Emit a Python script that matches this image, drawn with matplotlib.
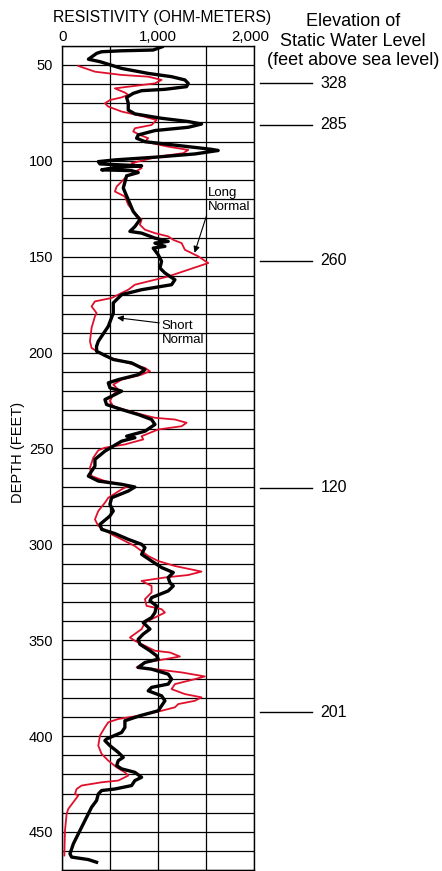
import matplotlib
matplotlib.use('Agg')
import matplotlib.pyplot as plt
import matplotlib.transforms as mtransforms

plt.rcParams['font.family'] = ['Liberation Sans', 'DejaVu Sans']

# ---- data ----
short_res = [1040, 947, 618, 410, 359, 272, 394, 618, 895, 1138, 1277, 1312, 1294, 1069, 826, 739, 670, 687, 687, 756,
             1034, 1312, 1450, 1312, 965, 791, 774, 861, 1243, 1555, 1624, 1381, 965, 548, 375, 392, 826, 548, 410, 722,
             791, 670, 635, 687, 739, 808, 756, 704, 826, 965, 1103, 965, 1069, 947, 999, 1034, 1017, 1069, 1173, 1138,
             826, 618, 531, 531, 479, 444, 375, 357, 357, 531, 722, 861, 791, 583, 479, 496, 618, 548, 444, 461,
             618, 791, 930, 965, 861, 670, 756, 618, 540, 444, 340, 340, 271, 375, 618, 756, 687, 514, 496, 531,
             496, 392, 410, 548, 687, 826, 861, 826, 930, 1034, 1156, 1103, 1121, 1156, 1103, 930, 913, 982, 965, 930,
             843, 913, 843, 791, 808, 913, 982, 999, 861, 791, 930, 1103, 1138, 1103, 930, 895, 1034, 1069, 1034, 999,
             808, 652, 652, 618, 461, 444, 496, 583, 635, 583, 566, 618, 756, 826, 756, 722, 548, 409, 375, 357,
             305, 253, 201, 167, 115, 80, 97, 271, 357]
short_depth = [40.5, 42.2, 42.6, 43.1, 43.9, 47.0, 48.3, 51.8, 54.4, 56.1, 57.8, 59.6, 61.3, 62.7, 63.4, 64.8, 66.9, 70.0, 73.5, 75.5,
               77.8, 79.5, 80.8, 82.5, 84.2, 86.5, 88.2, 90.0, 92.2, 94.0, 94.6, 96.4, 98.1, 99.5, 100.4, 101.6, 102.6, 103.5, 104.7, 105.1,
               106.1, 107.8, 114.2, 120.3, 126.4, 130.7, 134.3, 136.8, 137.7, 140.3, 142.0, 142.9, 144.6, 145.5, 149.0, 152.4, 155.9, 158.5, 162.0, 164.6,
               167.2, 169.8, 174.1, 179.4, 186.3, 188.9, 194.1, 196.7, 199.3, 203.6, 205.4, 208.9, 211.5, 214.1, 215.8, 218.4, 220.1, 221.9, 224.5, 227.1,
               229.7, 232.3, 234.9, 237.5, 241.0, 243.6, 244.4, 246.2, 248.5, 251.4, 255.7, 259.2, 264.4, 267.0, 268.7, 270.1, 272.2, 275.7, 279.2, 282.6,
               285.2, 289.6, 292.2, 294.4, 297.4, 300.0, 301.7, 305.2, 308.7, 312.1, 314.7, 317.3, 320.0, 321.7, 324.3, 327.8, 329.5, 332.1, 335.6, 338.2,
               340.8, 344.2, 346.8, 349.5, 352.1, 355.5, 358.1, 359.9, 361.6, 364.2, 365.1, 367.7, 370.3, 372.9, 374.6, 376.4, 379.0, 381.6, 384.2, 386.8,
               389.4, 392.0, 395.5, 398.1, 401.5, 402.4, 405.0, 408.5, 411.1, 412.8, 415.4, 417.1, 418.9, 421.5, 423.2, 425.8, 427.6, 428.4, 430.2, 433.6,
               437.1, 442.3, 447.5, 451.0, 456.2, 461.4, 463.1, 464.4, 465.8]

long_res = [167, 340, 618, 895, 1034, 965, 687, 548, 583, 652, 687, 618, 496, 444, 479, 618, 826, 982, 930, 756,
            739, 808, 895, 861, 1103, 1312, 1260, 999, 722, 826, 670, 566, 548, 652, 687, 756, 826, 808, 861, 965,
            1103, 1156, 1243, 1277, 1346, 1416, 1520, 1312, 1103, 895, 756, 687, 514, 340, 305, 357, 340, 305, 288, 305,
            444, 687, 861, 913, 826, 618, 531, 583, 531, 496, 531, 756, 965, 1173, 1294, 1243, 999, 826, 843, 652,
            444, 375, 323, 288, 305, 444, 687, 618, 479, 444, 375, 340, 375, 514, 618, 756, 895, 999, 1173, 1450,
            1312, 1069, 826, 930, 930, 861, 878, 1034, 1069, 999, 861, 826, 704, 756, 861, 965, 1121, 1225, 1069, 861,
            774, 965, 1243, 1485, 1381, 1173, 1138, 1277, 1450, 1381, 1208, 1173, 1034, 791, 583, 479, 444, 392, 375, 409,
            479, 566, 652, 687, 583, 409, 201, 149, 132, 167, 115, 62, 45, 28, 21]
long_depth = [50.5, 53.5, 55.2, 56.1, 57.8, 59.6, 61.3, 62.2, 63.0, 64.4, 65.6, 66.9, 68.3, 70.0, 71.7, 74.3, 76.6, 78.7, 81.3, 83.0,
              84.7, 86.5, 88.2, 90.0, 92.6, 94.3, 96.0, 97.8, 101.2, 103.8, 108.2, 113.4, 116.0, 118.6, 122.9, 127.3, 130.7, 133.3, 135.9, 137.7,
              139.4, 141.2, 142.9, 146.4, 148.1, 149.8, 153.3, 156.8, 160.3, 162.9, 164.6, 167.2, 171.5, 173.3, 175.9, 179.4, 181.1, 187.1, 194.1, 197.6,
              201.9, 205.4, 208.0, 209.7, 211.5, 214.1, 216.7, 219.3, 221.9, 225.3, 228.0, 231.4, 234.0, 234.9, 236.6, 238.4, 240.1, 243.6, 245.3, 247.9,
              249.6, 251.0, 254.8, 260.1, 264.4, 267.0, 269.6, 271.3, 275.7, 278.3, 282.6, 287.0, 290.4, 294.8, 297.4, 300.9, 306.1, 308.7, 311.3, 314.2,
              316.0, 317.3, 319.1, 321.7, 325.1, 328.6, 332.1, 333.8, 335.6, 337.3, 340.8, 344.2, 348.6, 350.3, 352.9, 355.5, 356.4, 358.5, 359.9, 361.6,
              364.2, 365.1, 366.8, 368.9, 370.3, 372.9, 375.5, 378.1, 379.8, 381.6, 383.3, 385.0, 386.8, 389.4, 391.1, 392.8, 395.4, 399.8, 405.0, 409.3,
              412.8, 416.3, 418.9, 420.6, 423.2, 424.1, 425.8, 427.6, 430.2, 431.0, 434.5, 438.0, 440.6, 449.3, 462.3]

water_depth = [59.5, 81.3, 152.0, 270.5, 387.5]
water_elev = ['328', '285', '260', '120', '201']

x_ticks = [0, 1000, 2000]
x_tick_labels = ['0', '1,000', '2,000']
x_grid = [0, 500, 1000, 1500, 2000]
y_ticks = [50, 100, 150, 200, 250, 300, 350, 400, 450]
y_grid = list(range(40, 471, 10))

# ---- figure ----
W, H = 442, 871
fig = plt.figure(figsize=(W / 100, H / 100), dpi=100)
ax = fig.add_axes([62.3 / W, 1 - 870.3 / H, 192 / W, (870.3 - 45.8) / H])

ax.set_xlim(0, 2000)
ax.set_ylim(469.5, 40)

ax.set_xticks(x_ticks)
ax.set_xticklabels(x_tick_labels)
ax.set_xticks(x_grid, minor=True)
ax.set_yticks(y_ticks)
ax.set_yticks(y_grid, minor=True)
ax.xaxis.tick_top()
ax.tick_params(axis='x', which='both', length=0, pad=1.5, labelsize=10.8)
ax.tick_params(axis='y', which='both', length=0, pad=6.5, labelsize=10.5)
ax.grid(True, which='both', color='black', linewidth=0.9)
ax.set_axisbelow(True)
for s in ax.spines.values():
    s.set_linewidth(1.0)
    s.set_color('black')

# shift "2,000" label slightly left as in reference
lab = ax.get_xticklabels()[-1]
lab.set_transform(lab.get_transform() + mtransforms.ScaledTranslation(-4 / 100, 0, fig.dpi_scale_trans))

ax.plot(long_res, long_depth, color='#e0102c', linewidth=1.3, zorder=3, solid_joinstyle='round')
ax.plot(short_res, short_depth, color='black', linewidth=2.4, zorder=4, solid_joinstyle='round')

# water level marks
trans = mtransforms.blended_transform_factory(ax.transAxes, ax.transData)
for d, e in zip(water_depth, water_elev):
    ax.plot([1.030, 1.300], [d, d], color='black', linewidth=1.0, transform=trans, clip_on=False)
    ax.text(1.346, d, e, transform=trans, ha='left', va='center', fontsize=11.5)

# annotations
ax.annotate('', xy=(1378, 147.9), xytext=(1503, 128.5),
            arrowprops=dict(arrowstyle='-|>', color='black', lw=0.8, mutation_scale=9, shrinkA=0, shrinkB=0))
ax.text(1513, 120.3, 'Long\nNormal', ha='left', va='center', fontsize=9.5, zorder=6)
ax.annotate('', xy=(570, 181.8), xytext=(1010, 184.5),
            arrowprops=dict(arrowstyle='-|>', color='black', lw=0.8, mutation_scale=9, shrinkA=0, shrinkB=0))
ax.text(1033, 189.6, 'Short\nNormal', ha='left', va='center', fontsize=9.5, zorder=6)

# titles / labels
fig.text(162.5 / W, 1 - 21.7 / H, 'RESISTIVITY (OHM-METERS)', ha='center', va='baseline', fontsize=11.3)
fig.text(353 / W, 1 - 41 / H, 'Elevation of\nStatic Water Level\n(feet above sea level)',
         ha='center', va='center', fontsize=13, linespacing=1.2)
fig.text(18 / W, 1 - 452 / H, 'DEPTH (FEET)', rotation=90, ha='center', va='center', fontsize=10.5)

fig.savefig('out.png', dpi=100)
